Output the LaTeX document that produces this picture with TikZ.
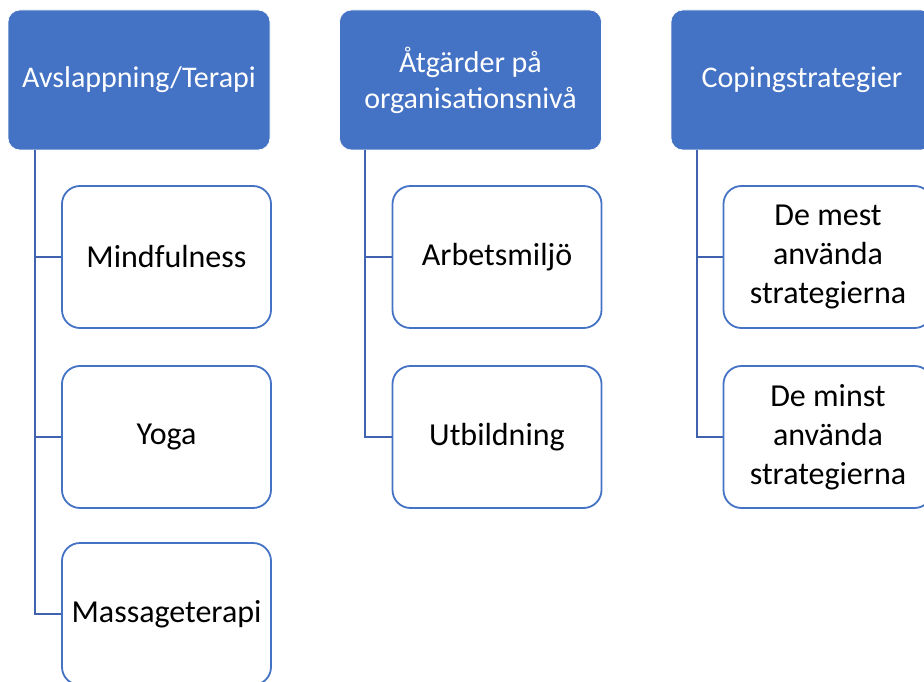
\documentclass[tikz,border=0pt]{standalone}
\usepackage{fontspec}
\setmainfont{Carlito}
\usepackage{xcolor}
\definecolor{hdrblue}{HTML}{4472C4}
\definecolor{lineblue}{HTML}{3F63AE}

\begin{document}
\begin{tikzpicture}[x=1pt,y=-1pt,
    head/.style={draw=white, line width=0.6pt, fill=hdrblue, rounded corners=12pt,
      minimum width=262pt, minimum height=140pt, text=white, align=center,
      font=\fontsize{30}{36}\selectfont, inner sep=0pt},
    item/.style={draw=hdrblue, line width=1.8pt, fill=white, rounded corners=18pt,
      minimum width=209pt, minimum height=142pt, align=center,
      font=\fontsize{32}{39}\selectfont, inner sep=0pt},
    conn/.style={draw=lineblue, line width=1.6pt}]
    \useasboundingbox (0,0) rectangle (924,682);
    \clip (0,0) rectangle (924,682);
    % kolumn 1
    \node[head] (avs) at (139,80) {Avslappning/Terapi};
    \node[item] (mind) at (166.5,257) {Mindfulness};
    \node[item] (yoga) at (166.5,437) {Yoga};
    \node[item] (mass) at (166.5,614) {Massageterapi};
    % kolumn 2
    \node[head] (atg) at (470.5,80) {Åtgärder på\\organisationsnivå};
    \node[item] (arb) at (497,257) {Arbetsmiljö};
    \node[item] (utb) at (497,437) {Utbildning};
    % kolumn 3
    \node[head] (cop) at (802,80) {Copingstrategier};
    \node[item] (mest) at (828,257) {De mest\\använda\\strategierna};
    \node[item] (minst) at (828,437) {De minst\\använda\\strategierna};
    \draw[conn] ([xshift=27pt]avs.south west) |- (mind.west)
      ([xshift=27pt]avs.south west) |- (yoga.west)
      ([xshift=27pt]avs.south west) |- (mass.west);
    \draw[conn] ([xshift=26pt]atg.south west) |- (arb.west)
      ([xshift=26pt]atg.south west) |- (utb.west);
    \draw[conn] ([xshift=26pt]cop.south west) |- (mest.west)
      ([xshift=26pt]cop.south west) |- (minst.west);
  \end{tikzpicture}
\end{document}
